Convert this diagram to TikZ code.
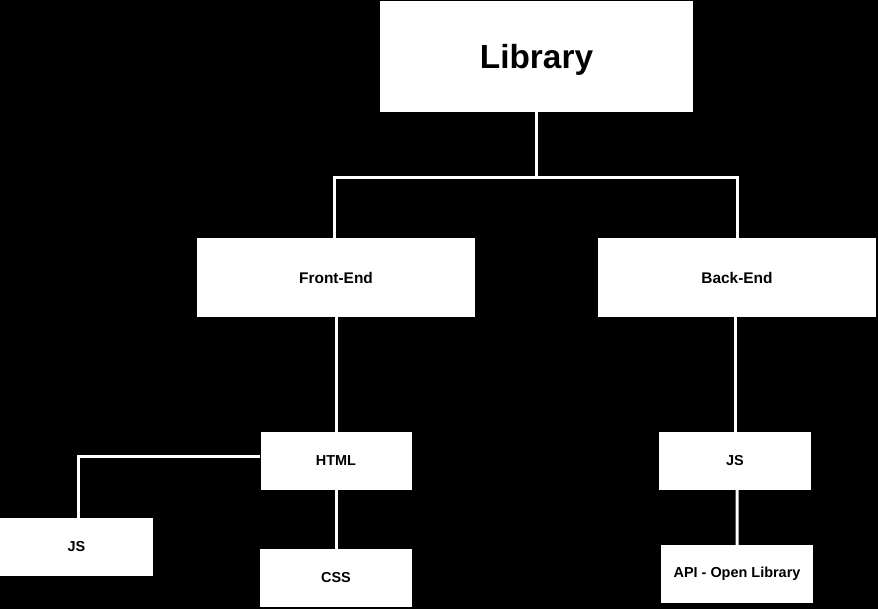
\documentclass[tikz,border=0pt]{standalone}
\usepackage{fontspec}
\setmainfont{Liberation Sans}
\usepackage{tikz}

\tikzset{
  box/.style={fill=white, text=black, inner sep=0pt, font=\bfseries},
  link/.style={draw=white, line width=3bp}
}

\begin{document}
\begin{tikzpicture}[x=1bp, y=-1bp]
  \fill[black] (0,0) rectangle (878,609);

  \node[box, minimum width=313bp, minimum height=111bp, text depth=0pt, font=\bfseries\fontsize{33.5}{40}\selectfont] (lib) at (536.5,56.5) {Library};

  \node[box, minimum width=278bp, minimum height=79bp, font=\bfseries\fontsize{15.5}{19}\selectfont] (front) at (336,277.5) {Front-End};
  \node[box, minimum width=278bp, minimum height=79bp, font=\bfseries\fontsize{15.5}{19}\selectfont] (back) at (737,277.5) {Back-End};

  \node[box, minimum width=151bp, minimum height=58bp, font=\bfseries\fontsize{14.5}{17}\selectfont] (html) at (336,461) {HTML};
  \node[box, minimum width=153bp, minimum height=58bp, font=\bfseries\fontsize{14.5}{17}\selectfont] (jsfront) at (76.5,547) {JS};
  \node[box, minimum width=152bp, minimum height=58bp, font=\bfseries\fontsize{14.5}{17}\selectfont] (css) at (336,578) {CSS};

  \node[box, minimum width=152bp, minimum height=58bp, font=\bfseries\fontsize{14.5}{17}\selectfont] (jsback) at (735,461) {JS};
  \node[box, minimum width=152bp, minimum height=58bp, font=\bfseries\fontsize{14.5}{17}\selectfont] (api) at (737,574) {API - Open Library};

  \coordinate (split) at (536.5,178);
  \draw[link] (lib.south) -- (split) -| ([xshift=-2bp]front.north);
  \draw[link] (split) -| (back.north);

  \draw[link] (front.south) -- (html.north);
  \draw[link] ([yshift=5bp]html.west) -| ([xshift=1.5bp]jsfront.north);
  \draw[link] (html.south) -- (css.north);

  \draw[link] (back.south -| jsback.north) -- (jsback.north);
  \draw[link] ([xshift=2bp]jsback.south) -- (api.north);
\end{tikzpicture}
\end{document}
